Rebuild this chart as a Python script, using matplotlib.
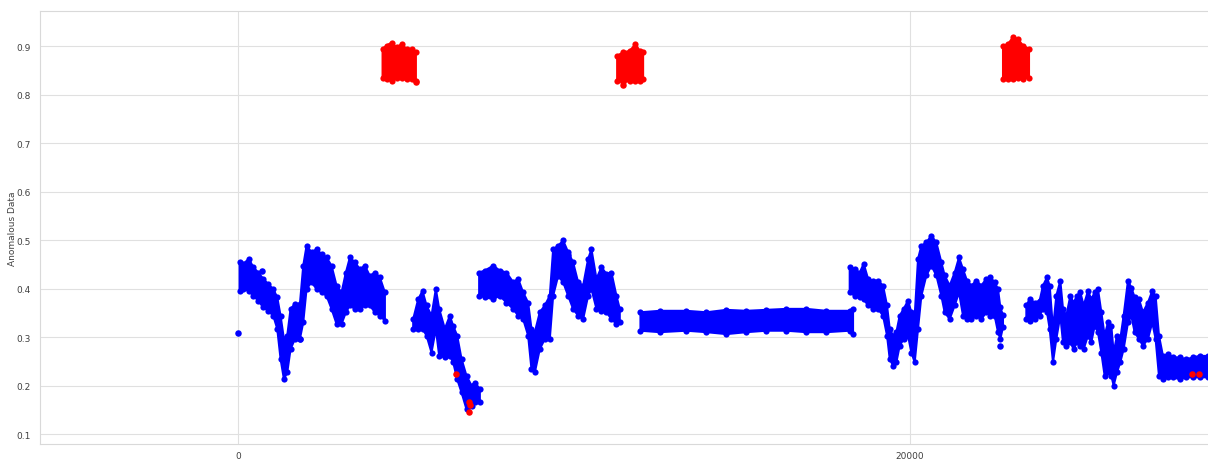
import numpy as np
import matplotlib
matplotlib.use("Agg")
import matplotlib.pyplot as plt
import seaborn as sns

nan = np.nan

# envelope of the dense blue (normal) point cloud, NaN marks a gap in the index
blue_x = [50, 158, 327, 456, 605, 754, 902, 1051, 1170, 1269, 1369, 1468, 1567, 1696, 1845,
          1944, 2043, 2192, 2341, 2490, 2638, 2787, 2936, 3085, 3214, 3333, 3482, 3630, 3779,
          3928, 4077, 4226, 4375, nan,
          5218, 5367, 5496, 5615, 5763, 5892, 5992, 6160, 6309, 6408, 6527, 6656, 6805, 6954,
          7053, 7202, nan,
          7182, 7351, 7599, 7797, 7995, 8194, 8343, 8491, 8640, 8739, 8839, 8987, 9136, 9285,
          9384, 9533, 9682, 9831, 9979, 10128, 10277, 10426, 10525, 10674, 10823, 10971, 11120,
          11269, 11368, nan,
          11984, 12559, 13353, 13948, 14543, 15139, 15734, 16329, 16924, 17519, 18214, 18313, nan,
          18214, 18363, 18512, 18631, 18760, 18909, 19057, 19206, 19325, 19405, 19504, 19603,
          19702, 19821, 19950, 20049, 20149, 20248, 20347, 20496, 20645, 20793, 20942, 21041,
          21190, 21339, 21468, 21587, 21706, 21835, 21984, 22133, 22281, 22400, 22529, 22629,
          22698, 22777, nan,
          23473, 23572, 23721, 23869, 23969, 24088, 24167, 24266, 24365, 24484, 24564, 24663,
          24782, 24881, 24980, 25080, 25179, 25308, 25407, 25506, 25605, 25705, 25804, 25903,
          26002, 26072, 26171, 26270, 26369, 26498, 26597, 26697, 26826, 26945, 27093, 27222,
          27321, 27421, 27540, 27689, 27837, 28036, 28234, 28433, 28631, 28869, 29100]
blue_top = [0.454, 0.451, 0.461, 0.444, 0.433, 0.420, 0.409, 0.399, 0.382, 0.344, 0.296, 0.303,
            0.358, 0.368, 0.368, 0.447, 0.488, 0.475, 0.481, 0.471, 0.464, 0.447, 0.406, 0.392,
            0.433, 0.464, 0.454, 0.440, 0.447, 0.426, 0.433, 0.423, 0.392, nan,
            0.337, 0.378, 0.395, 0.365, 0.344, 0.399, 0.358, 0.317, 0.344, 0.323, 0.303, 0.255,
            0.220, 0.200, 0.206, 0.193, nan,
            0.433, 0.437, 0.447, 0.437, 0.433, 0.413, 0.420, 0.392, 0.371, 0.317, 0.310, 0.351,
            0.365, 0.385, 0.481, 0.488, 0.499, 0.475, 0.454, 0.413, 0.406, 0.461, 0.481, 0.420,
            0.444, 0.430, 0.433, 0.385, 0.358, nan,
            0.351, 0.354, 0.354, 0.351, 0.356, 0.354, 0.356, 0.358, 0.358, 0.354, 0.354, 0.358, nan,
            0.444, 0.440, 0.433, 0.451, 0.420, 0.416, 0.416, 0.406, 0.365, 0.317, 0.303, 0.310,
            0.344, 0.358, 0.375, 0.351, 0.344, 0.461, 0.488, 0.495, 0.509, 0.495, 0.454, 0.427,
            0.406, 0.433, 0.464, 0.440, 0.416, 0.406, 0.416, 0.406, 0.420, 0.423, 0.413, 0.399,
            0.361, 0.345, nan,
            0.365, 0.378, 0.371, 0.375, 0.406, 0.423, 0.406, 0.317, 0.385, 0.416, 0.358, 0.344,
            0.385, 0.371, 0.385, 0.392, 0.365, 0.395, 0.378, 0.392, 0.399, 0.351, 0.303, 0.330,
            0.323, 0.268, 0.303, 0.296, 0.344, 0.416, 0.402, 0.382, 0.378, 0.351, 0.371, 0.395,
            0.385, 0.303, 0.261, 0.265, 0.258, 0.258, 0.254, 0.258, 0.261, 0.261, 0.261]
blue_bot = [0.395, 0.399, 0.395, 0.385, 0.375, 0.361, 0.354, 0.344, 0.317, 0.255, 0.213, 0.227,
            0.275, 0.296, 0.296, 0.330, 0.399, 0.413, 0.399, 0.392, 0.385, 0.358, 0.327, 0.327,
            0.351, 0.365, 0.358, 0.358, 0.365, 0.365, 0.351, 0.344, 0.334, nan,
            0.317, 0.317, 0.317, 0.303, 0.268, 0.317, 0.261, 0.258, 0.261, 0.248, 0.213, 0.186,
            0.151, 0.158, 0.165, 0.165, nan,
            0.385, 0.382, 0.378, 0.385, 0.371, 0.358, 0.344, 0.337, 0.303, 0.234, 0.227, 0.275,
            0.296, 0.296, 0.385, 0.426, 0.413, 0.385, 0.358, 0.344, 0.337, 0.385, 0.399, 0.358,
            0.354, 0.351, 0.337, 0.327, 0.330, nan,
            0.313, 0.310, 0.313, 0.310, 0.306, 0.310, 0.313, 0.313, 0.310, 0.310, 0.313, 0.306, nan,
            0.392, 0.385, 0.382, 0.378, 0.365, 0.358, 0.358, 0.344, 0.303, 0.255, 0.241, 0.248,
            0.282, 0.296, 0.303, 0.268, 0.248, 0.317, 0.385, 0.427, 0.447, 0.427, 0.385, 0.351,
            0.337, 0.365, 0.392, 0.344, 0.337, 0.337, 0.344, 0.337, 0.351, 0.344, 0.344, 0.310,
            0.296, 0.320, nan,
            0.337, 0.334, 0.337, 0.344, 0.358, 0.351, 0.317, 0.248, 0.296, 0.344, 0.289, 0.282,
            0.289, 0.275, 0.289, 0.282, 0.275, 0.303, 0.289, 0.323, 0.310, 0.268, 0.220, 0.227,
            0.220, 0.200, 0.227, 0.248, 0.275, 0.330, 0.344, 0.310, 0.296, 0.282, 0.296, 0.330,
            0.296, 0.220, 0.213, 0.217, 0.217, 0.213, 0.217, 0.217, 0.217, 0.217, 0.217]

# isolated blue points
blue_pts_x = [0, 704, 1845, 9830, 22698]
blue_pts_y = [0.309, 0.437, 0.296, 0.470, 0.282]

# dense red (anomalous) clusters
red_x = [4306, 4425, 4574, 4723, 4871, 5020, 5169, 5298, nan,
         11290, 11468, 11667, 11835, 11964, 12063, nan,
         22778, 22927, 23075, 23224, 23373, 23552]
red_top = [0.894, 0.901, 0.907, 0.897, 0.904, 0.894, 0.894, 0.887, nan,
           0.880, 0.887, 0.890, 0.904, 0.890, 0.887, nan,
           0.901, 0.904, 0.918, 0.914, 0.901, 0.894]
red_bot = [0.835, 0.832, 0.828, 0.835, 0.835, 0.832, 0.832, 0.828, nan,
           0.828, 0.825, 0.828, 0.828, 0.828, 0.832, nan,
           0.832, 0.832, 0.832, 0.835, 0.832, 0.835]

# isolated red points
red_pts_x = [5298, 11468, 6507, 6874, 6904, 6884, 28403, 28611]
red_pts_y = [0.826, 0.820, 0.224, 0.165, 0.160, 0.146, 0.223, 0.223]

sns.set_style("whitegrid")
plt.rcParams['font.family'] = ['DejaVu Sans']

fig = plt.figure(figsize=(12.08, 4.6), dpi=100)
ax = fig.add_axes([40 / 1208, 15 / 460, 1172 / 1208, 433 / 460])

ax.fill_between(blue_x, blue_bot, blue_top, color='blue', lw=1.5, edgecolor='blue')
ax.fill_between(red_x, red_bot, red_top, color='red', lw=1.5, edgecolor='red')
# dots along the cloud edges give it the bumpy look of overlapping markers
ax.scatter(blue_x + blue_x, blue_top + blue_bot, color='blue', s=20, lw=0)
ax.scatter(red_x + red_x, red_top + red_bot, color='red', s=20, lw=0)
ax.scatter(blue_pts_x, blue_pts_y, color='blue', s=22, lw=0, zorder=3)
ax.scatter(red_pts_x, red_pts_y, color='red', s=22, lw=0, zorder=3)

ax.set_xlim(-5893, 29000)
ax.set_ylim(0.0794, 0.9722)
ax.set_xticks([0, 20000])
ax.set_yticks([0.1, 0.2, 0.3, 0.4, 0.5, 0.6, 0.7, 0.8, 0.9])
ax.tick_params(labelsize=6.5, colors='.25')
ax.tick_params(axis='x', pad=1.5)
ax.set_ylabel('Anomalous Data', fontsize=6.5, color='.25')
ax.yaxis.set_label_coords(-0.0196, 0.5)
for s in ax.spines.values():
    s.set_color('.85')
ax.grid(color='.88')

fig.savefig('out.png', dpi=100)
